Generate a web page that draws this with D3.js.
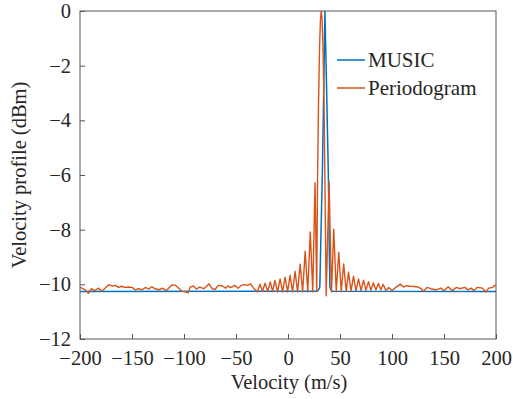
<!DOCTYPE html>
<html>
<head>
<meta charset="utf-8">
<script src="https://cdn.jsdelivr.net/npm/d3@7"></script>
<style>
  html, body { margin: 0; padding: 0; background: #fff; }
  svg { display: block; }
  text { font-family: "Liberation Serif", "Times New Roman", serif; fill: #262626; }
</style>
</head>
<body>
<svg id="chart" width="513" height="399"></svg>
<script>
// ---- data ----
const xTicks = [-200, -150, -100, -50, 0, 50, 100, 150, 200];
const yTicks = [-12, -10, -8, -6, -4, -2, 0];
const seriesNames = ["MUSIC", "Periodogram"];

const musicVelocity = [-200, 28, 29.5, 30.6, 31.5, 33, 34.3, 35.5, 37.2, 38.8, 39.6, 40.3, 41.5, 43, 200];
const musicPower    = [-10.26, -10.25, -10.2, -10.1, -8.5, -6.0, -3.0, 0, -3.0, -6.0, -8.5, -10.1, -10.22, -10.25, -10.26];

const periodVelocity = [
  -200, -197, -194.5, -192, -189, -186, -182, -179, -176, -172, -169, -166, -163, -160, -157, -153, -150,
  -147, -144, -140, -137, -134, -131, -128, -124, -121, -117, -114, -111, -108, -105, -102, -99, -96,
  -94, -91, -88, -85, -81, -78, -76, -73, -70, -67, -63, -60, -58, -55, -51, -48, -45, -42, -39, -36,
  -33, -29.5, -27, -24.5, -22, -19.5, -17, -14.8, -12.6, -10, -7.6, -5.2, -2.8, -0.4, 2.0, 4.4, 6.8,
  9.2, 11.7, 14.1, 16.5, 19.0, 21.4, 23.8, 26.0, 27.6, 28.4, 29.3, 30.3, 31.2, 32.0, 32.8, 33.7, 34.7,
  35.5, 36.7, 39.5, 41.8, 44.0, 46.4, 48.8, 51.2, 53.5, 56.0, 58.2, 60.6, 63.0, 65.4, 67.8, 70.2, 72.6,
  75.0, 77.4, 79.7, 82.0, 84.5, 87.0, 89.3, 91.5, 94.0, 97, 100, 104, 108, 111, 114, 117, 121, 125, 128,
  130, 134, 137, 142, 147, 150, 154, 158, 162, 165, 170, 173, 176, 179, 182, 187, 190, 193, 197, 198.5, 200
];
const periodPower = [
  -10.11, -10.16, -10.22, -10.33, -10.16, -10.23, -10.14, -10.25, -10.14, -10.01, -10.07, -10.04, -10.11, -10.07, -10.11, -10.10, -10.11,
  -10.20, -10.16, -10.20, -10.11, -10.18, -10.09, -10.16, -10.20, -10.14, -10.23, -10.11, -10.01, -10.04, -10.14, -10.25, -10.27, -10.31,
  -10.10, -10.06, -10.17, -10.10, -10.16, -10.06, -9.98, -10.16, -10.18, -10.04, -10.06, -10.14, -10.06, -10.12, -10.04, -10.14, -10.04, -10.01, -10.04, -9.98,
  -10.14, -10.28, -10.00, -10.25, -9.96, -10.26, -9.91, -10.27, -9.86, -10.28, -9.80, -10.28, -9.74, -10.28, -9.67, -10.28, -9.52,
  -10.28, -9.26, -10.28, -8.79, -10.28, -8.08, -10.28, -6.28, -10.26, -6.2, -3.5, -1.4, -0.3, 0, -0.3, -1.4, -3.5,
  -6.2, -10.42, -6.25, -10.28, -7.98, -10.27, -8.82, -10.27, -9.25, -10.26, -9.55, -10.25, -9.70, -10.24, -9.80, -10.23, -9.85,
  -10.22, -9.90, -10.22, -9.95, -10.20, -9.97, -10.20, -10.00, -10.22, -10.12, -10.23, -10.10, -9.99, -10.10, -10.05, -10.07, -10.08, -10.10, -10.16,
  -10.26, -10.11, -10.16, -10.20, -10.14, -10.23, -10.09, -10.23, -10.11, -10.16, -10.11, -10.20, -10.14, -10.23, -10.11, -10.14, -10.28, -10.14, -10.11, -10.04, -10.07
];

const colors = ["#0072BD", "#D95319"];

// ---- layout ----
const svg = d3.select("#chart");
const mLeft = 80, mRight = 496, mTop = 11, mBottom = 339;
const x = d3.scaleLinear().domain([-200, 200]).range([mLeft, mRight]);
const y = d3.scaleLinear().domain([-12, 0]).range([mBottom, mTop]);
const axisColor = "#555";

svg.append("defs").append("clipPath").attr("id", "clip")
  .append("rect").attr("x", mLeft).attr("y", mTop).attr("width", mRight - mLeft).attr("height", mBottom - mTop);

// series
const line = d3.line().x(d => x(d[0])).y(d => y(d[1]));
const musicData = musicVelocity.map((v, i) => [v, musicPower[i]]);
const periodData = periodVelocity.map((v, i) => [v, periodPower[i]]);

const g = svg.append("g").attr("clip-path", "url(#clip)");
g.append("path").datum(musicData).attr("d", line)
  .attr("fill", "none").attr("stroke", colors[0]).attr("stroke-width", 1.5).attr("stroke-linejoin", "round");
g.append("path").datum(periodData).attr("d", line)
  .attr("fill", "none").attr("stroke", colors[1]).attr("stroke-width", 1.4).attr("stroke-linejoin", "round");

// axes
const xAxis = d3.axisBottom(x).tickValues(xTicks).tickSizeInner(-5).tickSizeOuter(0).tickPadding(11);
const yAxis = d3.axisLeft(y).tickValues(yTicks).tickSizeInner(-5).tickSizeOuter(0).tickPadding(9);

const gx = svg.append("g").attr("transform", `translate(0,${mBottom})`).call(xAxis);
const gy = svg.append("g").attr("transform", `translate(${mLeft},0)`).call(yAxis);
[gx, gy].forEach(a => {
  a.select(".domain").remove();
  a.selectAll(".tick line").attr("stroke", axisColor);
  a.selectAll(".tick text").style("font-family", '"Liberation Serif", serif').style("font-size", "20.5px").attr("fill", "#262626");
});

// box
svg.append("rect").attr("x", mLeft).attr("y", mTop).attr("width", mRight - mLeft).attr("height", mBottom - mTop)
  .attr("fill", "none").attr("stroke", axisColor).attr("stroke-width", 1);

// axis labels
svg.append("text").attr("x", (mLeft + mRight) / 2 + 1).attr("y", 389).attr("text-anchor", "middle")
  .style("font-size", "20.5px").text("Velocity (m/s)");
svg.append("text").attr("transform", `translate(26,${(mTop + mBottom) / 2}) rotate(-90)`).attr("text-anchor", "middle")
  .style("font-size", "20.5px").text("Velocity profile (dBm)");

// legend
const legend = svg.append("g");
seriesNames.forEach((name, i) => {
  const ly = 60 + i * 28;
  legend.append("line").attr("x1", 337).attr("x2", 365).attr("y1", ly).attr("y2", ly)
    .attr("stroke", colors[i]).attr("stroke-width", 1.5);
  legend.append("text").attr("x", 368).attr("y", ly + 7).style("font-size", "21px").text(name);
});
</script>
</body>
</html>
